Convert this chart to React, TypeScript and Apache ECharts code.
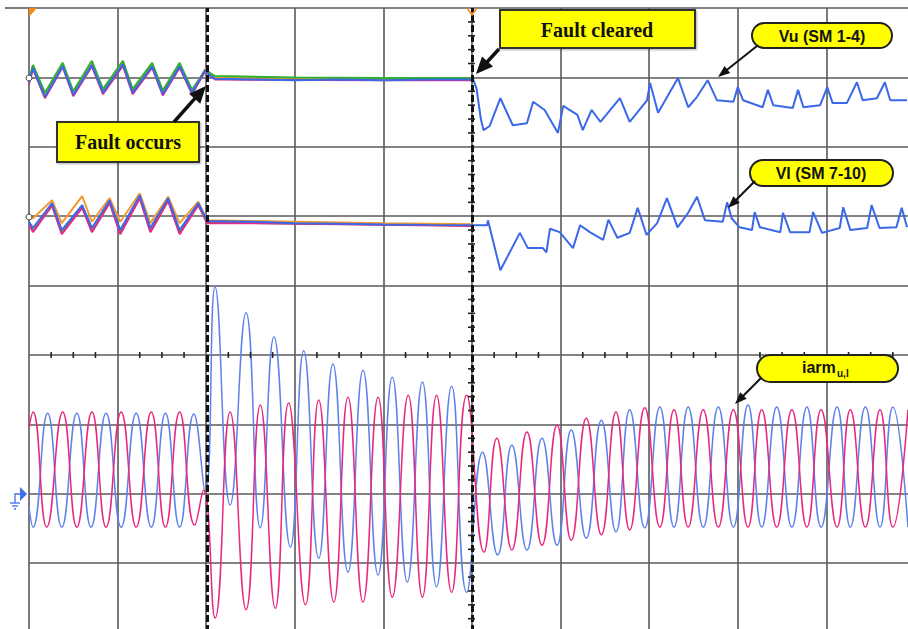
import React, { useEffect, useRef } from "react";
import * as echarts from "echarts";

// Time axis: oscilloscope divisions (-5 … 5), fault cleared at the centre division.
// Vertical axis: oscilloscope divisions (-5 … 5).
const faultInstants: number[] = [-2.99, 0];

// Vu (SM 1-4) capacitor voltages
const vuBlue: [number, number][] = [
  [-5.0, 3.93], [-4.955, 4.135], [-4.82, 3.72], [-4.62, 4.16], [-4.5, 3.75], [-4.29, 4.18], [-4.165, 3.78],
  [-3.94, 4.19], [-3.83, 3.78], [-3.61, 4.16], [-3.49, 3.76], [-3.3, 4.16], [-3.16, 3.78], [-3.01, 4.11],
  [-2.96, 4.03], [-2.9, 3.98], [-2.5, 3.97], [-2.0, 3.96], [-1.5, 3.97], [-1.0, 3.96], [-0.5, 3.97], [-0.02, 3.97],
  [0.01, 3.98], [0.05, 3.85], [0.1, 3.4], [0.13, 3.24], [0.2, 3.3], [0.32, 3.7], [0.46, 3.31], [0.62, 3.34],
  [0.69, 3.65], [0.82, 3.53], [0.97, 3.2], [1.03, 3.59], [1.19, 3.46], [1.25, 3.24], [1.35, 3.53], [1.45, 3.36],
  [1.67, 3.7], [1.78, 3.36], [1.975, 3.67], [2.01, 3.92], [2.1, 3.49], [2.325, 3.99], [2.44, 3.57], [2.54, 3.72],
  [2.66, 3.96], [2.765, 3.67], [2.95, 3.65], [3.0, 3.86], [3.06, 3.67], [3.28, 3.57], [3.34, 3.82], [3.4, 3.6],
  [3.62, 3.56], [3.68, 3.82], [3.74, 3.57], [3.93, 3.6], [4.01, 3.86], [4.07, 3.63], [4.23, 3.63], [4.345, 3.93],
  [4.41, 3.67], [4.57, 3.7], [4.66, 3.93], [4.72, 3.67], [4.91, 3.67],
];
const vuGreen: [number, number][] = [
  [-5.0, 3.96], [-4.955, 4.18], [-4.82, 3.78], [-4.62, 4.21], [-4.5, 3.8], [-4.29, 4.24], [-4.165, 3.83],
  [-3.94, 4.24], [-3.83, 3.83], [-3.61, 4.21], [-3.49, 3.81], [-3.3, 4.21], [-3.16, 3.82], [-3.01, 4.1],
  [-2.9, 4.02], [-2.0, 4.0], [-1.0, 3.99], [0.0, 3.99],
];
const vuOrange: [number, number][] = [
  [-5.0, 3.95], [-4.955, 4.16], [-4.82, 3.74], [-4.62, 4.19], [-4.5, 3.77], [-4.29, 4.21], [-4.165, 3.8],
  [-3.94, 4.22], [-3.83, 3.8], [-3.61, 4.19], [-3.49, 3.78], [-3.3, 4.19], [-3.16, 3.8], [-3.01, 4.12],
  [-2.9, 4.0], [-1.0, 3.98], [0.0, 3.98],
];
const vuMagenta: [number, number][] = [
  [-5.0, 3.91], [-4.955, 4.12], [-4.82, 3.7], [-4.62, 4.15], [-4.5, 3.73], [-4.29, 4.16], [-4.165, 3.76],
  [-3.94, 4.17], [-3.83, 3.76], [-3.61, 4.14], [-3.49, 3.74], [-3.3, 4.14], [-3.16, 3.76], [-3.01, 4.09],
  [-2.9, 3.97], [-1.0, 3.96], [0.0, 3.96],
];

// Vl (SM 7-10) capacitor voltages
const vlBlue: [number, number][] = [
  [-5.0, 1.92], [-4.955, 1.83], [-4.74, 2.19], [-4.63, 1.8], [-4.4, 2.16], [-4.29, 1.83], [-4.09, 2.23],
  [-3.97, 1.8], [-3.75, 2.3], [-3.63, 1.83], [-3.43, 2.26], [-3.3, 1.8], [-3.09, 2.19], [-2.99, 1.93],
  [-2.5, 1.92], [-2.0, 1.9], [-1.5, 1.89], [-1.0, 1.88], [-0.5, 1.875], [0.17, 1.87], [0.18, 1.94],
  [0.32, 1.22], [0.54, 1.76], [0.63, 1.54], [0.8, 1.54], [0.84, 1.48], [0.88, 1.82], [0.99, 1.77],
  [1.14, 1.54], [1.22, 1.87], [1.33, 1.77], [1.48, 1.66], [1.54, 1.95], [1.64, 1.69], [1.78, 1.76],
  [1.87, 2.12], [1.97, 1.73], [2.09, 1.9], [2.2, 2.26], [2.32, 1.84], [2.44, 2.05], [2.54, 2.28],
  [2.63, 1.94], [2.83, 1.92], [2.88, 2.2], [2.93, 1.97], [3.02, 1.84], [3.16, 1.8], [3.19, 2.06],
  [3.25, 1.84], [3.48, 1.77], [3.51, 2.05], [3.59, 1.77], [3.81, 1.77], [3.85, 2.06], [3.95, 1.76],
  [4.15, 1.83], [4.19, 2.13], [4.27, 1.8], [4.46, 1.83], [4.51, 2.16], [4.6, 1.83], [4.79, 1.84],
  [4.85, 2.12], [4.91, 1.84],
];
const vlOrange: [number, number][] = [
  [-5.0, 1.96], [-4.955, 1.97], [-4.74, 2.23], [-4.63, 1.9], [-4.4, 2.29], [-4.29, 1.92], [-4.09, 2.26],
  [-3.97, 1.92], [-3.75, 2.33], [-3.63, 1.9], [-3.43, 2.28], [-3.3, 1.9], [-3.09, 2.21], [-2.99, 1.94],
  [-2.5, 1.93], [-1.0, 1.9], [0.0, 1.885],
];
const vlMagenta: [number, number][] = [
  [-5.0, 1.88], [-4.955, 1.77], [-4.74, 2.16], [-4.63, 1.74], [-4.4, 2.12], [-4.29, 1.77], [-4.09, 2.19],
  [-3.97, 1.74], [-3.75, 2.26], [-3.63, 1.77], [-3.43, 2.22], [-3.3, 1.74], [-3.09, 2.16], [-2.99, 1.9],
  [-2.5, 1.9], [-1.0, 1.875], [0.0, 1.86],
];
const vlGreen: [number, number][] = [
  [-5.0, 1.9], [-4.955, 1.79], [-4.74, 2.15], [-4.63, 1.76], [-4.4, 2.14], [-4.29, 1.78], [-4.09, 2.2],
  [-3.97, 1.76], [-3.75, 2.27], [-3.63, 1.78], [-3.43, 2.23], [-3.3, 1.76], [-3.09, 2.17], [-2.99, 1.91],
  [-2.0, 1.895], [0.0, 1.865],
];

// Arm currents (extrema of each cycle)
const iarmLower: [number, number][] = [
  [-5.0, -1.04], [-4.955, -0.82], [-4.8, -2.48], [-4.62, -0.82], [-4.46, -2.48], [-4.29, -0.82], [-4.13, -2.48],
  [-3.96, -0.82], [-3.79, -2.48], [-3.62, -0.82], [-3.46, -2.48], [-3.3, -0.82], [-3.13, -2.45], [-3.03, -1.95],
  [-2.9, -3.79], [-2.73, -0.82], [-2.55, -3.67], [-2.39, -0.72], [-2.22, -3.65], [-2.07, -0.69], [-1.88, -3.6],
  [-1.73, -0.65], [-1.56, -3.56], [-1.4, -0.61], [-1.23, -3.56], [-1.06, -0.61], [-0.9, -3.49], [-0.72, -0.58],
  [-0.56, -3.49], [-0.4, -0.58], [-0.23, -3.42], [-0.06, -0.58], [0.135, -2.84], [0.28, -1.2], [0.45, -2.81],
  [0.62, -1.11], [0.79, -2.74], [0.96, -1.01], [1.12, -2.67], [1.29, -0.91], [1.46, -2.59], [1.625, -0.82],
  [1.78, -2.52], [1.95, -0.76], [2.12, -2.48], [2.28, -0.79], [2.44, -2.48], [2.61, -0.79], [2.78, -2.48],
  [2.95, -0.79], [3.115, -2.48], [3.27, -0.79], [3.44, -2.48], [3.61, -0.79], [3.78, -2.48], [3.94, -0.79],
  [4.12, -2.48], [4.27, -0.79], [4.44, -2.48], [4.605, -0.79], [4.75, -2.48], [4.92, -0.79],
];
const iarmUpper: [number, number][] = [
  [-5.0, -2.2], [-4.955, -2.48], [-4.79, -0.84], [-4.63, -2.48], [-4.46, -0.84], [-4.3, -2.48], [-4.13, -0.84],
  [-3.96, -2.48], [-3.79, -0.84], [-3.62, -2.48], [-3.46, -0.84], [-3.3, -2.48], [-3.14, -0.85], [-3.01, -1.99],
  [-2.9, 0.98], [-2.73, -2.16], [-2.55, 0.61], [-2.39, -2.49], [-2.235, 0.26], [-2.05, -2.77], [-1.9, 0.06],
  [-1.73, -2.93], [-1.57, -0.13], [-1.4, -3.13], [-1.23, -0.22], [-1.06, -3.17], [-0.9, -0.32], [-0.73, -3.27],
  [-0.56, -0.39], [-0.4, -3.34], [-0.23, -0.45], [-0.06, -3.42], [0.12, -1.4], [0.29, -2.88], [0.45, -1.3],
  [0.62, -2.81], [0.79, -1.2], [0.96, -2.74], [1.12, -1.08], [1.29, -2.64], [1.46, -0.94], [1.625, -2.55],
  [1.78, -0.79], [1.95, -2.49], [2.12, -0.75], [2.28, -2.48], [2.44, -0.75], [2.61, -2.48], [2.78, -0.75],
  [2.95, -2.48], [3.115, -0.72], [3.27, -2.48], [3.44, -0.75], [3.61, -2.48], [3.78, -0.75], [3.94, -2.48],
  [4.12, -0.75], [4.27, -2.48], [4.44, -0.75], [4.605, -2.48], [4.75, -0.75], [4.92, -2.48],
];

const GRID = "#5a5a5a";
const C_BLUE_V = "#3a68e8";
const C_GREEN = "#2fb02f";
const C_ORANGE = "#f09a30";
const C_MAGENTA = "#e42a8a";
const C_BLUE_I = "#5e82ec";
const C_PINK_I = "#e8287e";

function arrowEls(x1: number, y1: number, x2: number, y2: number, lw: number, hl: number, hw: number) {
  const dx = x2 - x1, dy = y2 - y1;
  const len = Math.hypot(dx, dy);
  const ux = dx / len, uy = dy / len;
  const bx = x2 - ux * hl, by = y2 - uy * hl;
  const nx = -uy, ny = ux;
  return [
    { type: "line", z: 100, shape: { x1, y1, x2: bx + ux * 2, y2: by + uy * 2 }, style: { stroke: "#111", lineWidth: lw } },
    {
      type: "polygon", z: 100,
      shape: { points: [[x2, y2], [bx + (nx * hw) / 2, by + (ny * hw) / 2], [bx - (nx * hw) / 2, by - (ny * hw) / 2]] },
      style: { fill: "#111" },
    },
  ];
}

function textEl(x: number, y: number, text: string, font: string, align = "center") {
  return {
    type: "text", z: 101, x, y,
    style: { text, font, fill: "#111", align, textAlign: align, verticalAlign: "middle", textVerticalAlign: "middle" },
  };
}

export default function App() {
  const ref = useRef<HTMLDivElement>(null);
  useEffect(() => {
    if (!ref.current) return;
    const chart = echarts.init(ref.current, null, { renderer: "svg" });

    const tickData: number[][] = [];
    for (let i = -20; i <= 20; i++) if (i % 4 !== 0) tickData.push([i * 0.25, 0, 0]);
    for (let j = -25; j <= 25; j++) if (j % 5 !== 0) tickData.push([0, j * 0.2, 1]);

    const line = (name: string, data: [number, number][], color: string, width: number, z: number, smooth = false) => ({
      type: "line", name, data, symbol: "none", showSymbol: false, smooth: smooth ? 0.5 : false,
      lineStyle: { color, width }, z, silent: true, animation: false,
    });

    const pill = (x: number, y: number, w: number, h: number) => ({
      type: "rect", z: 99, shape: { x, y, width: w, height: h, r: h / 2 },
      style: { fill: "#ffff00", stroke: "#222", lineWidth: 2 },
    });
    const box = (x: number, y: number, w: number, h: number) => ({
      type: "rect", z: 99, shape: { x, y, width: w, height: h },
      style: { fill: "#ffff00", stroke: "#333", lineWidth: 2, shadowBlur: 2, shadowColor: "rgba(0,0,0,0.3)", shadowOffsetX: 1, shadowOffsetY: 1 },
    });

    const option: any = {
      animation: false,
      backgroundColor: "#ffffff",
      grid: { left: 29, top: 8, width: 886, height: 694, show: false },
      xAxis: {
        type: "value", min: -5, max: 5, interval: 1,
        axisLine: { show: false }, axisTick: { show: false }, axisLabel: { show: false },
        splitLine: { show: true, lineStyle: { color: GRID, width: 1.6 } },
      },
      yAxis: {
        type: "value", min: -5, max: 5, interval: 1,
        axisLine: { show: false }, axisTick: { show: false }, axisLabel: { show: false },
        splitLine: { show: true, lineStyle: { color: GRID, width: 1.6 } },
      },
      series: [
        line("Vu magenta", vuMagenta, C_MAGENTA, 2, 3),
        line("Vu orange", vuOrange, C_ORANGE, 2, 3),
        line("Vu green", vuGreen, C_GREEN, 2, 3),
        line("Vu (SM 1-4)", vuBlue, C_BLUE_V, 2, 4),
        line("Vl green", vlGreen, C_GREEN, 2, 3),
        line("Vl magenta", vlMagenta, C_MAGENTA, 2, 3),
        line("Vl orange", vlOrange, C_ORANGE, 2, 3),
        line("Vl (SM 7-10)", vlBlue, C_BLUE_V, 2, 4),
        line("iarm u", iarmUpper, C_BLUE_I, 1.5, 5, true),
        {
          ...line("iarm l", iarmLower, C_PINK_I, 1.5, 5, true),
          markLine: {
            silent: true, symbol: ["none", "none"], label: { show: false }, z: 20,
            lineStyle: { color: "#111", width: 3, type: [7, 3] },
            emphasis: { disabled: true },
            data: faultInstants.map((x) => ({ xAxis: x })),
          },
        },
        {
          type: "custom", name: "ticks", data: tickData, z: 21, silent: true, encode: { x: 0, y: 1 },
          renderItem: (_p: any, api: any) => {
            const p = api.coord([api.value(0), api.value(1)]);
            const o = api.value(2);
            const shape = o === 0
              ? { x1: p[0], y1: p[1] - 3, x2: p[0], y2: p[1] + 3 }
              : { x1: p[0] - 4, y1: p[1], x2: p[0] + 3, y2: p[1] };
            return { type: "line", shape, style: { stroke: "#222", lineWidth: 1.6 } };
          },
        },
      ],
      graphic: [
        { type: "line", z: 50, shape: { x1: 5, y1: 8, x2: 29, y2: 8 }, style: { stroke: GRID, lineWidth: 1.6 } },
        // trigger markers
        { type: "polygon", z: 60, shape: { points: [[29, 8], [37, 8], [29, 17]] }, style: { fill: "#f08a1c" } },
        { type: "polyline", z: 60, shape: { points: [[467, 8], [472, 15], [477, 8]] }, style: { stroke: "#f08a1c", lineWidth: 1.5, fill: "none" } },
        // channel offset markers
        { type: "circle", z: 60, shape: { cx: 29, cy: 78, r: 3 }, style: { fill: "#fff", stroke: "#333", lineWidth: 1 } },
        { type: "circle", z: 60, shape: { cx: 29, cy: 217, r: 3 }, style: { fill: "#fff", stroke: "#333", lineWidth: 1 } },
        // ground marker
        { type: "polygon", z: 60, shape: { points: [[20, 487], [27, 494], [20, 501]] }, style: { fill: "#3f6fe8" } },
        { type: "polyline", z: 60, shape: { points: [[15, 503], [15, 494], [21, 494]] }, style: { stroke: "#3f6fe8", lineWidth: 1.3, fill: "none" } },
        { type: "line", z: 60, shape: { x1: 10, y1: 503, x2: 20, y2: 503 }, style: { stroke: "#3f6fe8", lineWidth: 1.3 } },
        { type: "line", z: 60, shape: { x1: 12, y1: 506, x2: 18, y2: 506 }, style: { stroke: "#3f6fe8", lineWidth: 1.3 } },
        { type: "line", z: 60, shape: { x1: 14, y1: 509, x2: 16, y2: 509 }, style: { stroke: "#3f6fe8", lineWidth: 1.3 } },
        // annotations
        box(57, 122, 142, 40),
        textEl(128, 142, "Fault occurs", 'bold 20px "Liberation Serif", "Times New Roman", serif'),
        ...arrowEls(174, 122, 206, 86, 3.5, 17, 15),
        box(500, 10, 195, 38),
        textEl(597, 30, "Fault cleared", 'bold 20px "Liberation Serif", "Times New Roman", serif'),
        ...arrowEls(499, 49, 476, 74, 3.5, 17, 15),
        pill(752, 23, 140, 25),
        textEl(822, 36, "Vu (SM 1-4)", 'bold 16px "Liberation Sans", Arial, sans-serif'),
        ...arrowEls(757, 46, 718, 77, 2, 12, 9),
        pill(750, 160, 143, 26),
        textEl(821, 173, "Vl (SM 7-10)", 'bold 16px "Liberation Sans", Arial, sans-serif'),
        ...arrowEls(755, 181, 728, 208, 2, 12, 9),
        pill(757, 355, 141, 27),
        textEl(802, 367, "iarm", 'bold 16px "Liberation Sans", Arial, sans-serif', "left"),
        textEl(837, 373, "u,l", 'bold 10px "Liberation Sans", Arial, sans-serif', "left"),
        ...arrowEls(761, 378, 735, 404, 2, 12, 9),
      ],
    };
    chart.setOption(option);
    return () => chart.dispose();
  }, []);
  return (
    <div style={{ position: "fixed", left: 0, top: 0, width: 908, height: 629, background: "#fff", overflow: "hidden" }}>
      <div ref={ref} style={{ width: 930, height: 720 }} />
    </div>
  );
}
